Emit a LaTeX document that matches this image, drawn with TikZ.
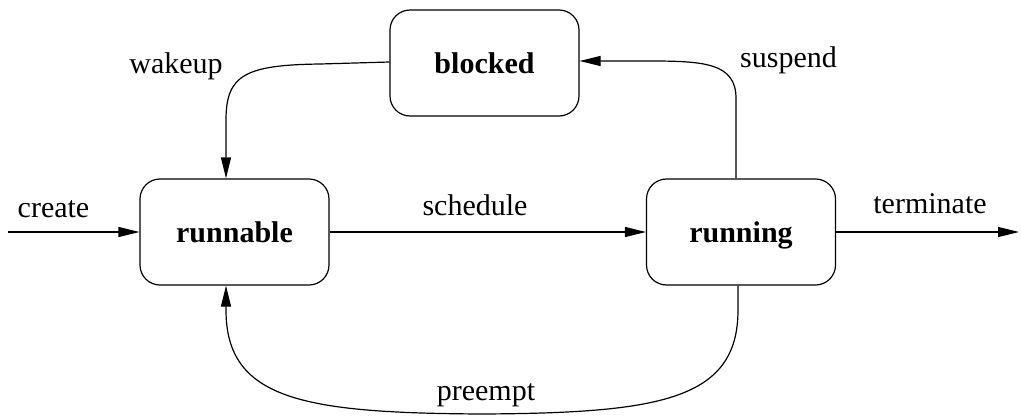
\documentclass[tikz,border=0pt]{standalone}
\usepackage{fontspec}
\setmainfont{Liberation Serif}
\usetikzlibrary{arrows.meta,calc}
\tikzset{
  state/.style={draw=black, fill=white, line width=1.2pt, rounded corners=20pt,
    minimum width=189pt, minimum height=106pt, inner sep=0pt,
    text height=21pt, text depth=0pt, font=\fontsize{30}{36}\selectfont\bfseries},
  lbl/.style={anchor=base, inner sep=0pt, font=\fontsize{30}{36}\selectfont},
  flow/.style={draw=black, line width=1.2pt, -{Triangle[length=21pt,width=10pt]}}
}
\begin{document}
\begin{tikzpicture}[x=1pt, y=-1pt]
  \useasboundingbox (0,0) rectangle (1021,418);

  % process states
  \node[state] (blocked)  at (484.5,63)  {blocked};
  \node[state] (runnable) at (234.5,232) {runnable};
  \node[state] (running)  at (741,232)   {running};

  % free ends of the entry and exit arrows
  \coordinate (start) at (8,232);
  \coordinate (exit)  at (1019,232);

  % transitions
  \draw[flow] (start) -- (runnable.west);
  \draw[flow] (runnable.east) -- (running.west);
  \draw[flow] (running.east) -- (exit);

  \draw[flow] ([xshift=-5pt]running.north) -- ++(0,-80)
    .. controls ++(0,-35) and (705,61) .. (650,61) -- ([yshift=2pt]blocked.east);

  \draw[flow] ([yshift=1pt]blocked.west) -- (320,64)
    .. controls (245,65) and (226,75) .. (226,120) -- ([xshift=-8.5pt]runnable.north);

  \draw[flow] ([xshift=-3pt]running.south) -- (738,310)
    .. controls (738,400) and (660,413) .. (482,414)
    .. controls (304,413) and (226,400) .. (226,310) -- ([xshift=-8.5pt]runnable.south);

  % transition labels
  \node[lbl] (lcreate)    at (53.5,217) {create};
  \node[lbl] (lschedule)  at (475,215)  {schedule};
  \node[lbl] (lterminate) at (930,213)  {terminate};
  \node[lbl] (lwakeup)    at (176,73.5) {wakeup};
  \node[lbl] (lsuspend)   at (788.5,67.5) {suspend};
  \node[lbl] (lpreempt)   at (486,400)  {preempt};
\end{tikzpicture}
\end{document}
